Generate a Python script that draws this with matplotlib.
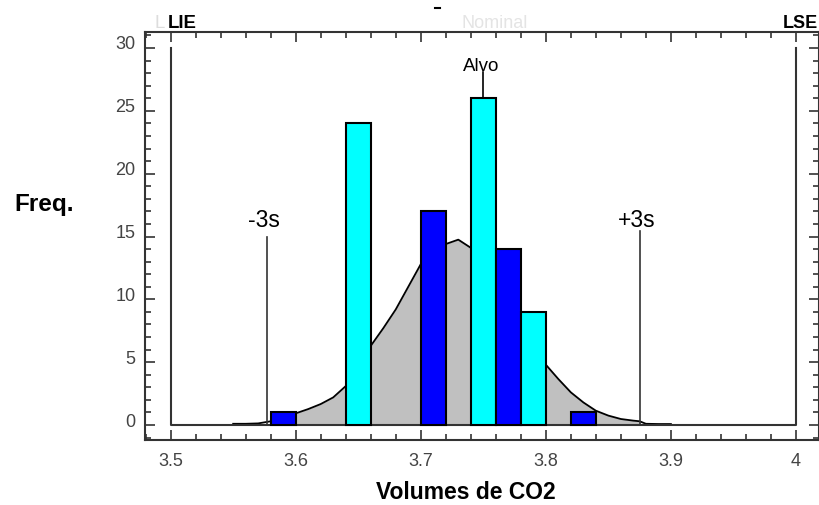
import matplotlib
matplotlib.use("Agg")
import matplotlib.pyplot as plt
from matplotlib.ticker import MultipleLocator
from matplotlib.transforms import ScaledTranslation
from matplotlib.lines import Line2D

plt.rcParams['font.family'] = ['Liberation Sans', 'DejaVu Sans']

# histogram (bin left edge, count)
bin_left = [3.58, 3.64, 3.70, 3.74, 3.76, 3.78, 3.82]
counts = [1, 24, 17, 26, 14, 9, 1]
bin_width = 0.02
bar_colors = ['#0000ff', '#00ffff', '#0000ff', '#00ffff', '#0000ff', '#00ffff', '#0000ff']

# fitted curve
curve_x = [3.55, 3.56, 3.57, 3.58, 3.59, 3.60, 3.61, 3.62, 3.63, 3.64, 3.65, 3.66,
           3.67, 3.68, 3.69, 3.70, 3.71, 3.72, 3.73, 3.74, 3.75, 3.76, 3.77, 3.78,
           3.79, 3.80, 3.81, 3.82, 3.83, 3.84, 3.85, 3.86, 3.87, 3.875, 3.88, 3.89, 3.90]
curve_y = [0.1, 0.1, 0.13, 0.3, 0.6, 0.93, 1.27, 1.67, 2.2, 3.1, 4.6, 6.3,
           7.7, 9.2, 11.0, 12.8, 13.9, 14.4, 14.75, 14.1, 13.2, 11.9, 10.3, 8.5,
           6.6, 4.8, 3.66, 2.6, 1.8, 1.14, 0.75, 0.48, 0.35, 0.3, 0.1, 0.08, 0.08]

lie, lse = 3.5, 4.0
target = 3.75
minus3s, plus3s = 3.577, 3.875
spec_height = 30

fig = plt.figure(figsize=(8.2, 5.06), dpi=100)
ax = fig.add_axes([145/820, 1 - 441/506, 674/820, 408/506])

# normal curve with gray fill between -3s and +3s
ax.fill_between(curve_x, curve_y, 0,
                where=[minus3s <= x <= plus3s + 1e-9 for x in curve_x],
                color='#c0c0c0', lw=0, zorder=1)
ax.plot(curve_x, curve_y, color='black', lw=1.3, zorder=2)

# spec limits box
ax.plot([lie, lie, lse, lse], [spec_height, 0, 0, spec_height], color='#333333', lw=1.5, zorder=2)

# -3s, +3s and target lines
ax.plot([minus3s, minus3s], [0, 15.0], color='#333333', lw=1.2, zorder=2)
ax.plot([plus3s, plus3s], [0, 15.4], color='#333333', lw=1.2, zorder=2)
ax.plot([target, target], [0, 28.1], color='black', lw=1.2, zorder=2)

ax.bar(bin_left, counts, width=bin_width, align='edge', color=bar_colors,
       edgecolor='black', linewidth=1.5, zorder=3)

ax.text(3.5746, 15.83, '-3s', fontsize=16.5, ha='center', va='baseline')
ax.text(3.8726, 15.83, '+3s', fontsize=16.5, ha='center', va='baseline')
ax.text(3.7485, 28.25, 'Alvo', fontsize=13.5, ha='center', va='baseline')

ax.set_xlim(3.4795, 4.0184)
ax.set_ylim(-1.19, 31.27)
ax.set_xticks([3.5, 3.6, 3.7, 3.8, 3.9, 4.0])
ax.set_xticklabels(['3.5', '3.6', '3.7', '3.8', '3.9', '4'])
ax.set_yticks([0, 5, 10, 15, 20, 25, 30])
ax.xaxis.set_minor_locator(MultipleLocator(0.02))
ax.yaxis.set_minor_locator(MultipleLocator(1))
ax.tick_params(which='both', direction='in', top=True, right=True, color='#333333', width=1.2,
               labelsize=13, labelcolor='#444444')
ax.tick_params(which='major', length=7)
ax.tick_params(which='minor', length=4)
ax.tick_params(axis='x', pad=9)
ax.tick_params(axis='y', pad=7)
for lbl in ax.get_yticklabels():
    lbl.set_transform(lbl.get_transform() + ScaledTranslation(0, 6/100, fig.dpi_scale_trans))
for s in ax.spines.values():
    s.set_color('#333333')
    s.set_linewidth(1.5)

# text outside the axes
fig.text(155/820, 1 - 28.3/506, 'L', fontsize=13.4, color='#dddddd', va='baseline')
fig.text(168/820, 1 - 28.3/506, 'LIE', fontsize=13.4, fontweight='bold', va='baseline')
fig.text(783/820, 1 - 28.3/506, 'LSE', fontsize=13, fontweight='bold', va='baseline')
fig.text(495/820, 1 - 28.3/506, 'Nominal', fontsize=13, color='#e4e4e4', ha='center', va='baseline')
fig.add_artist(Line2D([435/820, 440/820], [1 - 9/506, 1 - 9/506], color='black', lw=1.5))
fig.text(44/820, 1 - 204/506, 'Freq.', fontsize=17.5, fontweight='bold', ha='center', va='center')
fig.text(466/820, 1 - 499/506, 'Volumes de CO2', fontsize=16.5, fontweight='bold',
         ha='center', va='baseline')

fig.savefig('out.png', dpi=100)
